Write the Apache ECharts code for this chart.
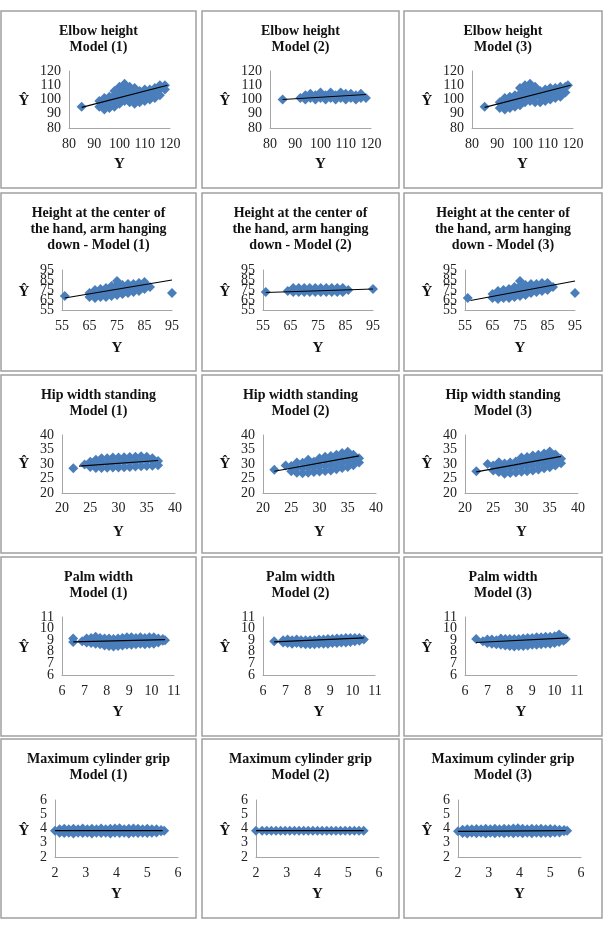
<!DOCTYPE html>
<html>
<head>
<meta charset="utf-8">
<script src="https://cdn.jsdelivr.net/npm/echarts@6/dist/echarts.min.js"></script>
<style>
  html, body { margin: 0; background: #fff; }
  #chart { width: 603px; height: 932px; }
</style>
</head>
<body>
<div id="chart"></div>
<script>
// row names (one per measurement)
let rowNames = [
  "Elbow height",
  "Height at the center of\nthe hand, arm hanging\ndown -",
  "Hip width standing",
  "Palm width",
  "Maximum cylinder grip",
];
// axis ranges per row: [min, max, interval]
let axisRanges = [
  [80, 120, 10],
  [55, 95, 10],
  [20, 40, 5],
  [6, 11, 1],
  [2, 6, 1],
];
// Ŷ tick labels per row
let yTickLabels = [
  [80, 90, 100, 110, 120],
  [55, 65, 75, 85, 95],
  [20, 25, 30, 35, 40],
  [6, 7, 8, 9, 10, 11],
  [2, 3, 4, 5, 6],
];

// scatter points, read column by column: [Y, Ŷ, Ŷ, ...]
let elbow1 = [[85,95],[92,95,99],[94,93,97,101],[96,94,98,102],[98,95,99,103,106],[100,97,101,105,109],[102,99,103,107,111],[104,98,102,106,109],[106,97,101,105,108],[108,98,102,106],[110,99,103,107],[112,100,104,107],[114,101,105,108],[116,103,107,110],[118,107,110]];
let elbow2 = [[85,100],[92,101],[94,100,103],[96,101,104],[98,100,103],[100,101,105],[102,100,103],[104,101,105],[106,100,103],[108,101,105],[110,100,104],[112,101,104],[114,100,103],[116,101,104],[118,101]];
let elbow3 = [[85,95],[91,94,98],[93,93,97,101],[95,94,98,102],[97,95,99,103],[99,96,100,104,108],[101,98,102,106,110],[103,99,103,107,111],[105,98,102,106,109],[107,98,102,106],[109,99,103,107],[111,100,104,108],[113,101,105,108],[115,102,106,109],[117,105,109],[118,110]];
let hand1 = [[56,69],[65,68,72],[67,67,71,75],[69,68,72,76],[71,68,73,77],[73,69,74,79],[75,70,75,80,84],[77,71,76,80],[79,72,77,81],[81,73,78,81],[83,74,78,82],[85,76,80,83],[87,78],[95,72]];
let hand2 = [[56,73],[64,74],[66,73,77],[68,73,77],[70,73,77],[72,73,77],[74,73,77],[76,73,77],[78,73,77],[80,73,77],[82,73,77],[84,73,77],[86,75],[95,76]];
let hand3 = [[56,67],[65,67,71],[67,66,70,74],[69,67,71,75],[71,67,72,76],[73,68,73,78],[75,69,74,79,84],[77,70,75,80],[79,72,77,81],[81,73,77,81],[83,74,78,82],[85,75,79,82],[87,78],[95,72]];
let hip1 = [[22,28.5],[24,29.8],[25,29,30.8],[26,28.6,30.3,31.5],[27,28.6,30.3,32],[28,28.7,30.4,32],[29,28.8,30.5,32.2],[30,28.8,30.6,32.2],[31,28.9,30.7,32.3],[32,29,30.8,32.4],[33,29.1,30.9,32.5],[34,29.2,31,32.7],[35,29.3,31.1,32.5],[36,29.4,31.2,32],[37,29.6,31]];
let hip2 = [[22,28],[24,29.5],[25,27.5,29.3],[26,27,28.8,30.5],[27,26.8,28.6,30.4],[28,27,28.8,30.6,31.5],[29,27.2,29,30.8],[30,27.4,29.2,31,32],[31,27.6,29.4,31.2,32.5],[32,27.8,29.6,31.4,32.8],[33,28.2,30,31.8,33.2],[34,28.6,30.4,32.2,33.8],[35,29,30.8,32.6,34.2],[36,29.6,31.4,33.2],[37,30.5,32]];
let hip3 = [[22,27.5],[24,30],[25,27.8,29.5],[26,27.2,29,30.6],[27,26.6,28.4,30.2],[28,26.9,28.7,30.5],[29,27.1,28.9,30.9],[30,27.3,29.1,31,32.2],[31,27.5,29.3,31.1,32.4],[32,27.8,29.6,31.4,32.9],[33,28.1,29.9,31.7,33.2],[34,28.5,30.3,32.1,33.6],[35,28.9,30.7,32.5,34.3],[36,29.5,31.3,33.3],[37,30.3,31.8]];
let palm1 = [[6.5,8.85,9.15],[6.9,8.9],[7.1,8.8,9.15],[7.3,8.75,9.2],[7.5,8.7,9.05,9.3],[7.7,8.65,9.0,9.2],[7.9,8.55,8.95,9.15],[8.1,8.5,8.9,9.15],[8.3,8.45,8.85,9.1],[8.5,8.5,8.9,9.15],[8.7,8.55,8.95,9.2],[8.9,8.6,8.95,9.25],[9.1,8.6,9.0,9.25],[9.3,8.65,9.0,9.2],[9.5,8.7,9.05,9.25],[9.7,8.65,9.0,9.2],[9.9,8.7,9.05,9.25],[10.1,8.7,9.05,9.25],[10.3,8.8,9.15],[10.5,8.95,9.1],[10.6,9.0]];
let palm2 = [[6.5,8.9],[6.9,8.8,9.0],[7.1,8.75,9.05],[7.3,8.7,9.0],[7.5,8.75,9.05],[7.7,8.7,9.0],[7.9,8.65,9.0],[8.1,8.65,9.0],[8.3,8.65,9.0],[8.5,8.7,9.05],[8.7,8.7,9.05],[8.9,8.7,9.1],[9.1,8.75,9.1],[9.3,8.75,9.15],[9.5,8.8,9.15],[9.7,8.8,9.2],[9.9,8.85,9.2],[10.1,8.9,9.2],[10.3,8.95,9.2],[10.5,9.05]];
let palm3 = [[6.5,9.1],[6.8,8.9],[7.0,8.75,9.05],[7.2,8.7,9.05],[7.4,8.65,9.0],[7.6,8.6,8.95,9.15],[7.8,8.55,8.9,9.1],[8.0,8.5,8.85,9.1],[8.2,8.45,8.85,9.1],[8.4,8.5,8.9,9.1],[8.6,8.5,8.9,9.15],[8.8,8.55,8.9,9.2],[9.0,8.6,8.95,9.2],[9.2,8.6,9.0,9.25],[9.4,8.65,9.0,9.25],[9.6,8.7,9.05,9.3],[9.8,8.7,9.05,9.3],[10.0,8.75,9.1,9.35],[10.2,8.85,9.2,9.5],[10.4,8.95,9.2],[10.5,9.1]];
let grip1 = [[2.0,3.85],[2.15,3.7,3.95],[2.3,3.68,3.98],[2.45,3.7,3.95],[2.6,3.65,3.98],[2.75,3.7,3.95],[2.9,3.68,4.0],[3.05,3.7,3.95],[3.2,3.65,3.98],[3.35,3.7,3.95],[3.5,3.68,4.0],[3.65,3.7,3.95],[3.8,3.65,3.98],[3.95,3.7,4.0],[4.1,3.68,4.02],[4.25,3.7,3.95],[4.4,3.65,3.98],[4.55,3.7,4.0],[4.7,3.68,3.98],[4.85,3.7,3.95],[5.0,3.68,3.98],[5.15,3.7,3.95],[5.3,3.72,3.95],[5.45,3.8,3.9],[5.55,3.85]];
let grip2 = [[2.0,3.85],[2.2,3.85],[2.35,3.85],[2.5,3.85],[2.65,3.85],[2.8,3.85],[2.95,3.85],[3.1,3.85],[3.25,3.85],[3.4,3.85],[3.55,3.85],[3.7,3.85],[3.85,3.85],[4.0,3.85],[4.15,3.85],[4.3,3.85],[4.45,3.85],[4.6,3.85],[4.75,3.85],[4.9,3.85],[5.05,3.85],[5.2,3.85],[5.35,3.85],[5.5,3.85]];
let grip3 = [[2.0,3.8],[2.15,3.68,3.92],[2.3,3.65,3.95],[2.45,3.7,3.95],[2.6,3.66,3.97],[2.75,3.7,3.95],[2.9,3.65,3.98],[3.05,3.7,3.95],[3.2,3.66,3.98],[3.35,3.7,3.95],[3.5,3.66,3.98],[3.65,3.7,3.97],[3.8,3.66,4.0],[3.95,3.7,4.02],[4.1,3.66,3.98],[4.25,3.7,3.95],[4.4,3.66,3.98],[4.55,3.7,3.97],[4.7,3.68,3.98],[4.85,3.7,3.95],[5.0,3.68,3.97],[5.15,3.72,3.95],[5.3,3.72,3.92],[5.45,3.8,3.9],[5.55,3.85]];

// linear trend lines (two end points)
let trends = [
  [[85,94.5],[119,110]], [[85,100],[118,103.5]], [[85,94.5],[119,110]],
  [[56,67],[95,85]], [[56,72.5],[95,76]], [[57,64.5],[95,84]],
  [[23,29.3],[37,31.2]], [[22,27.5],[37,32.8]], [[22,27.3],[37,32.6]],
  [[6.5,8.85],[10.6,9.05]], [[6.5,8.85],[10.5,9.2]], [[6.5,8.8],[10.6,9.2]],
  [[2.0,3.85],[5.5,3.85]], [[2.0,3.85],[5.5,3.85]], [[2.0,3.8],[5.5,3.85]],
];

let columns = [elbow1, elbow2, elbow3, hand1, hand2, hand3, hip1, hip2, hip3, palm1, palm2, palm3, grip1, grip2, grip3];

// expand [x, y1, y2, ...] columns into [x, y] pairs
function toPairs(cols) {
  let out = [];
  cols.forEach(function (col) {
    for (let k = 1; k < col.length; k++) out.push([col[0], col[k]]);
  });
  return out;
}

// page layout
let cellLeft = [1, 202, 404];
let cellWidth = [195, 197, 198];
let cellTop = [11, 193, 375, 557, 739];
let cellHeight = [177, 178, 178, 179, 179];
let rowLayout = [
  { plotLeft: 68, plotTop: 60, plotW: 101, plotH: 57, yhatY: 90, yLabY: 153, margin: 9 },
  { plotLeft: 61, plotTop: 77, plotW: 110, plotH: 40, yhatY: 99, yLabY: 155, margin: 9 },
  { plotLeft: 61, plotTop: 60, plotW: 113, plotH: 58, yhatY: 89, yLabY: 157, margin: 8 },
  { plotLeft: 61, plotTop: 60, plotW: 112, plotH: 58, yhatY: 91, yLabY: 155, margin: 9 },
  { plotLeft: 54, plotTop: 61, plotW: 123, plotH: 57, yhatY: 92, yLabY: 155, margin: 9 },
];

let serif = "'Liberation Serif', 'Times New Roman', serif";
let grids = [], xAxes = [], yAxes = [], series = [], graphics = [];

for (let i = 0; i < 15; i++) {
  let r = Math.floor(i / 3), c = i % 3;
  let L = rowLayout[r];
  let x0 = cellLeft[c], y0 = cellTop[r];
  let rng = axisRanges[r];

  graphics.push({
    type: "rect",
    shape: { x: x0, y: y0, width: cellWidth[c], height: cellHeight[r] },
    style: { fill: "none", stroke: "#a0a0a0", lineWidth: 1.5 },
  });
  graphics.push({
    type: "text",
    x: x0 + cellWidth[c] / 2,
    y: y0 + 12,
    style: {
      text: rowNames[r] + (r === 1 ? " " : "\n") + "Model (" + (c + 1) + ")",
      align: "center", textAlign: "center",
      verticalAlign: "top", textVerticalAlign: "top",
      fontFamily: serif, fontSize: 14, fontWeight: "bold", lineHeight: 16,
      fill: "#111",
    },
  });
  graphics.push({
    type: "text",
    x: x0 + 23,
    y: y0 + L.yhatY,
    style: {
      text: "Ŷ", align: "center", textAlign: "center",
      verticalAlign: "middle", textVerticalAlign: "middle",
      fontFamily: serif, fontSize: 15, fontWeight: "bold", fill: "#111",
    },
  });
  graphics.push({
    type: "text",
    x: x0 + L.plotLeft + L.plotW / 2,
    y: y0 + L.yLabY,
    style: {
      text: "Y", align: "center", textAlign: "center",
      verticalAlign: "middle", textVerticalAlign: "middle",
      fontFamily: serif, fontSize: 15, fontWeight: "bold", fill: "#111",
    },
  });

  grids.push({
    left: x0 + L.plotLeft,
    top: y0 + L.plotTop,
    width: L.plotW,
    height: L.plotH,
  });
  let axisCommon = {
    gridIndex: i,
    type: "value",
    min: rng[0],
    max: rng[1],
    interval: rng[2],
    splitLine: { show: false },
    axisTick: { show: false },
    axisLine: { show: true, onZero: false, lineStyle: { color: "#a6a6a6", width: 1 } },
  };
  let labelCommon = {
    fontFamily: serif, fontSize: 14, color: "#222",
    showMinLabel: true, showMaxLabel: true, hideOverlap: false,
  };
  xAxes.push(Object.assign({}, axisCommon, {
    axisLabel: Object.assign({ margin: L.margin }, labelCommon),
  }));
  // Ŷ labels are packed tighter than their height in the original, so they are
  // split over two overlaid axes (alternate ticks) to keep every one visible
  let ticks = yTickLabels[r];
  let evenTicks = ticks.filter(function (v, k) { return k % 2 === 0; });
  let oddTicks = ticks.filter(function (v, k) { return k % 2 === 1; });
  yAxes.push(Object.assign({}, axisCommon, {
    position: "left",
    axisLabel: Object.assign({ margin: 8, customValues: evenTicks }, labelCommon),
  }));
  yAxes.push(Object.assign({}, axisCommon, {
    position: "left",
    offset: 0,
    axisLine: { show: false },
    axisLabel: Object.assign({ margin: 8, customValues: oddTicks }, labelCommon),
  }));
  series.push({
    type: "scatter",
    xAxisIndex: i,
    yAxisIndex: 2 * i,
    data: toPairs(columns[i]),
    symbol: "diamond",
    symbolSize: 10,
    itemStyle: { color: "#4a7ebb", opacity: 1 },
    silent: true,
    animation: false,
  });
  series.push({
    type: "line",
    xAxisIndex: i,
    yAxisIndex: 2 * i,
    data: trends[i],
    symbol: "none",
    lineStyle: { color: "#000", width: 1.2 },
    z: 5,
    silent: true,
    animation: false,
  });
}

let chart = echarts.init(document.getElementById("chart"));
chart.setOption({
  backgroundColor: "#fff",
  animation: false,
  grid: grids,
  xAxis: xAxes,
  yAxis: yAxes,
  series: series,
  graphic: { elements: graphics },
});
</script>
</body>
</html>
